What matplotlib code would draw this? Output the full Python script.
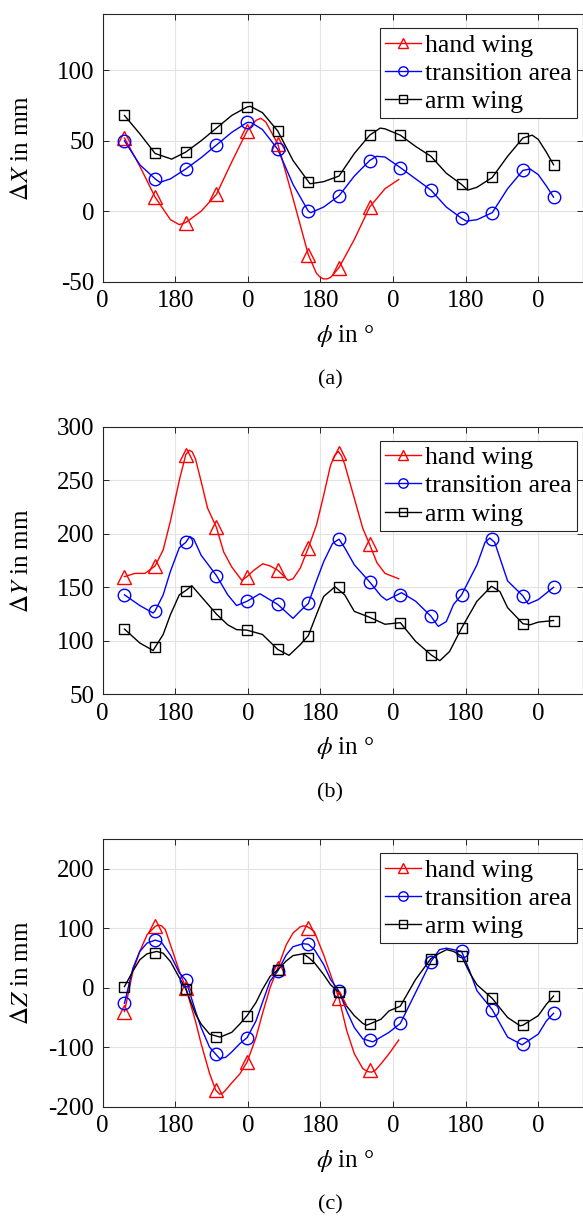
import matplotlib.pyplot as plt
from matplotlib.lines import Line2D

plt.rcParams['font.family'] = ['Liberation Serif', 'DejaVu Serif']
plt.rcParams['mathtext.fontset'] = 'stix'
plt.rcParams['axes.unicode_minus'] = False
plt.rcParams['font.size'] = 18

# phase of the measured points (deg, continuous over several beats)
phi_mark = [54, 130, 206, 282, 358, 434, 510, 586, 662, 738, 814, 890, 966, 1042, 1118]

# ---- Delta X ----
dx_hand = [52, 10, -8, 12, 57, 48, -31, -40, 3]
dx_trans = [50, 23, 30, 47, 63, 44, 0, 11, 36, 31, 15, -5, -1, 29, 10]
dx_arm = [68, 41, 42, 59, 74, 57, 21, 25, 54, 54, 39, 19, 24, 52, 33]

dx_hand_phi = [54, 92, 130, 168, 190, 206, 244, 282, 320, 358, 380, 392, 404, 434, 472, 510, 530, 538,
               547, 556, 565, 586, 624, 662, 700, 734]
dx_hand_fit = [52, 32, 10, -6, -9.5, -8, 0, 12, 35, 57, 64.5, 66, 63.5, 48, 9, -31, -44, -46.5,
               -48, -48, -47, -40, -20, 3, 16, 22.5]
dx_trans_phi = [54, 92, 130, 142, 168, 206, 244, 282, 320, 358, 368, 396, 434, 472, 510, 516, 548, 586,
                624, 662, 679, 700, 738, 776, 814, 852, 890, 902, 928, 966, 1004, 1042, 1060, 1080,
                1100, 1118]
dx_trans_fit = [50, 33, 23, 20.5, 23, 30, 38, 47, 56, 63, 63, 58, 44, 19, 0, -1, 3, 11,
                25, 36, 39, 38.5, 31, 23, 15, 3, -5, -7, -6, -1, 16, 29, 30, 26,
                18, 10]
dx_arm_phi = [54, 92, 130, 171, 206, 244, 282, 320, 358, 366, 396, 434, 472, 514, 548, 586, 624, 662,
              688, 700, 738, 776, 814, 852, 890, 905, 928, 966, 1004, 1042, 1065, 1080, 1100, 1118]
dx_arm_fit = [68, 55, 41, 37, 42, 50, 59, 68, 74, 74.5, 70, 57, 36, 19.5, 21, 25, 41, 54,
              59, 58.5, 54, 46, 39, 27, 19, 15, 17, 24, 39, 52, 54, 51, 42, 33]

# ---- Delta Y ----
dy_hand = [160, 170, 274, 206, 160, 166, 187, 275, 190]
dy_trans = [143, 128, 192, 161, 137, 134, 135, 195, 155, 143, 123, 143, 195, 142, 150]
dy_arm = [111, 94, 147, 125, 110, 92, 105, 150, 122, 117, 87, 112, 151, 116, 119]

dy_hand_phi = [54, 80, 105, 130, 150, 168, 190, 206, 215, 222, 230, 244, 260, 282, 300, 320, 345, 358,
               375, 397, 415, 434, 460, 472, 490, 510, 530, 548, 565, 575, 584, 592, 600, 624, 645,
               662, 680, 700, 734]
dy_hand_fit = [160, 163, 163, 170, 185, 212, 250, 274, 278, 276.5, 270, 249, 224, 206, 183, 169, 156.5, 160,
               166, 172, 170, 166, 156.5, 158, 168, 187, 208, 236, 264, 273, 277, 273, 265, 233, 205,
               190, 173, 163, 158]
dy_trans_phi = [54, 92, 125, 130, 150, 168, 190, 206, 216, 226, 244, 282, 310, 332, 358, 390, 434, 472,
                490, 510, 530, 548, 570, 586, 600, 624, 662, 690, 704, 741, 776, 814, 832, 852, 870,
                890, 928, 948, 960, 972, 1004, 1042, 1055, 1080, 1118]
dy_trans_fit = [143, 133, 126, 128, 143, 165, 187, 192, 197.5, 195, 180, 161, 143, 133, 137, 144, 134, 121,
                128, 135, 156, 174, 191, 195, 187, 171, 155, 142, 138, 145, 137, 123, 113.5, 118, 134,
                143, 171, 192, 196, 192, 156, 142, 134.5, 138.5, 150]
dy_arm_phi = [54, 92, 125, 150, 168, 190, 206, 221, 244, 282, 310, 332, 358, 396, 434, 462, 490, 510,
              530, 548, 576, 600, 624, 662, 700, 738, 776, 814, 836, 860, 890, 928, 964, 985, 1004,
              1042, 1060, 1080, 1118]
dy_arm_fit = [111, 98, 91, 106, 124.5, 143, 147, 151.5, 141.5, 125, 115, 110.5, 110, 106, 92, 86.5, 96.5, 105,
              124.5, 141.5, 150.5, 143, 127.5, 122, 115.5, 117, 99.5, 87, 81.5, 90, 112, 137, 151, 146, 131,
              116, 115, 117.5, 119]

# ---- Delta Z ----
dz_hand = [-40, 103, 0, -172, -125, 33, 100, -18, -139]
dz_trans = [-26, 80, 13, -111, -84, 28, 73, -6, -88, -60, 44, 61, -37, -95, -43]
dz_arm = [2, 59, -2, -82, -47, 30, 50, -8, -61, -31, 49, 53, -18, -63, -14]

dz_hand_phi = [54, 75, 92, 110, 130, 138, 146, 155, 168, 190, 206, 230, 244, 265, 280, 290, 298, 305, 320,
               340, 358, 380, 396, 415, 434, 455, 472, 490, 498, 506, 515, 525, 548, 565, 586, 605, 624,
               645, 657, 667, 677, 690, 710, 734]
dz_hand_fit = [-40, 28, 61, 89, 103, 105.5, 104, 98, 72, 28, 0, -56, -94, -144, -172, -179, -177, -172, -160,
               -145, -125, -84, -44, 0, 33, 72, 92, 102.5, 104, 103, 99.5, 94, 55, 22, -18, -72, -111,
               -136, -141, -142, -138, -128, -111, -88]
dz_trans_phi = [54, 75, 92, 110, 130, 145, 168, 190, 206, 230, 244, 265, 290, 305, 320, 340, 358, 380,
                396, 415, 434, 455, 472, 497, 510, 525, 548, 565, 586, 605, 624, 645, 670, 690, 710,
                738, 776, 814, 835, 852, 870, 890, 910, 928, 966, 1004, 1040, 1080, 1100, 1118]
dz_trans_fit = [-26, 33, 61, 75, 80, 77, 55, 25, 13, -39, -67, -100, -119, -117, -108, -94, -84, -56,
                -25, 11, 28, 55, 69, 74, 73, 64, 39, 14, -6, -39, -67, -86, -91, -83, -75,
                -60, -8, 44, 64, 66.5, 64, 61, 28, -5, -37, -83, -96, -78, -56, -43]
dz_arm_phi = [54, 75, 92, 110, 134, 150, 168, 190, 206, 230, 244, 265, 291, 320, 340, 358, 380, 396,
              415, 434, 455, 472, 497, 510, 525, 548, 565, 586, 605, 624, 645, 654, 662, 690, 710, 738,
              776, 814, 835, 853, 870, 890, 910, 928, 966, 1004, 1035, 1042, 1080, 1100, 1118]
dz_arm_fit = [2, 28, 47, 57, 61, 58, 44, 17, -2, -44, -61, -78, -83, -75, -61, -47, -25, -3,
              19, 30, 45, 54, 57, 51, 42, 22, 5, -8, -31, -47, -60, -63, -61, -53, -39, -31,
              14, 49, 58, 64, 61, 53, 25, 5, -18, -50, -64, -63, -47, -28, -14]

xticks = [0, 180, 360, 540, 720, 900, 1080]
xticklabels = ['0', '180', '0', '180', '0', '180', '0']
labels = ['hand wing', 'transition area', 'arm wing']
colors = ['#ff0000', '#0000ff', '#000000']
markers = ['^', 'o', 's']
msizes = [9.5, 9, 7.5]

panels = [
    (r'$\Delta X$ in mm', (-50, 140), [-50, 0, 50, 100], '(a)',
     [(dx_hand_phi, dx_hand_fit, dx_hand), (dx_trans_phi, dx_trans_fit, dx_trans),
      (dx_arm_phi, dx_arm_fit, dx_arm)]),
    (r'$\Delta Y$ in mm', (50, 300), [50, 100, 150, 200, 250, 300], '(b)',
     [(dy_hand_phi, dy_hand_fit, dy_hand), (dy_trans_phi, dy_trans_fit, dy_trans),
      (dy_arm_phi, dy_arm_fit, dy_arm)]),
    (r'$\Delta Z$ in mm', (-200, 250), [-200, -100, 0, 100, 200], '(c)',
     [(dz_hand_phi, dz_hand_fit, dz_hand), (dz_trans_phi, dz_trans_fit, dz_trans),
      (dz_arm_phi, dz_arm_fit, dz_arm)]),
]

W, H = 583, 1217
fig = plt.figure(figsize=(W / 100, H / 100), dpi=100)

ax_left = 102.7
ax_tops = [14, 426.7, 839]
ax_h = 267.7

for (ylab, ylim, yticks, cap, series), top in zip(panels, ax_tops):
    ax = fig.add_axes([ax_left / W, 1 - (top + ax_h) / H, 1 - ax_left / W, ax_h / H])
    for (lx, ly, mv), c, m, ms in zip(series, colors, markers, msizes):
        ax.plot(lx, ly, color=c, lw=1.0, zorder=3)
        ax.plot(phi_mark[:len(mv)], mv, ls='none', marker=m, ms=ms, mfc='none',
                mec=c, mew=1.0, zorder=4)
    ax.set_xlim(0, 1191)
    ax.set_ylim(*ylim)
    ax.set_xticks(xticks)
    ax.set_xticklabels(xticklabels)
    ax.set_yticks(yticks)
    ax.grid(True, color='#e3e3e3', lw=0.8)
    ax.set_axisbelow(True)
    ax.tick_params(direction='in', length=4, width=0.7, top=True, right=True,
                   colors='#262626', labelcolor='black', pad=6)
    for sp in ax.spines.values():
        sp.set_color('#262626')
        sp.set_linewidth(0.8)

    handles = [Line2D([], [], color=c, lw=1.0, marker=m, ms=ms * 0.75, mfc='none', mec=c, mew=1.0)
               for c, m, ms in zip(colors, markers, msizes)]
    leg = ax.legend(handles, labels, loc='upper right', bbox_to_anchor=(0.9875, 0.946),
                    borderaxespad=0, fancybox=False, framealpha=1, edgecolor='#262626',
                    handlelength=1.4, handletextpad=0.15, labelspacing=0.2, borderpad=0.2,
                    fontsize=18.5)
    leg.get_frame().set_linewidth(0.8)

    bottom = top + ax_h
    fig.text(22 / W, 1 - (top + ax_h / 2) / H, ylab, rotation=90, ha='center', va='center')
    fig.text(345 / W, 1 - (bottom + 54) / H, r'$\phi$ in °', ha='center', va='center')
    fig.text(330 / W, 1 - (bottom + 98) / H, cap, ha='center', va='center', fontsize=16)

fig.savefig('out.png', dpi=100)
